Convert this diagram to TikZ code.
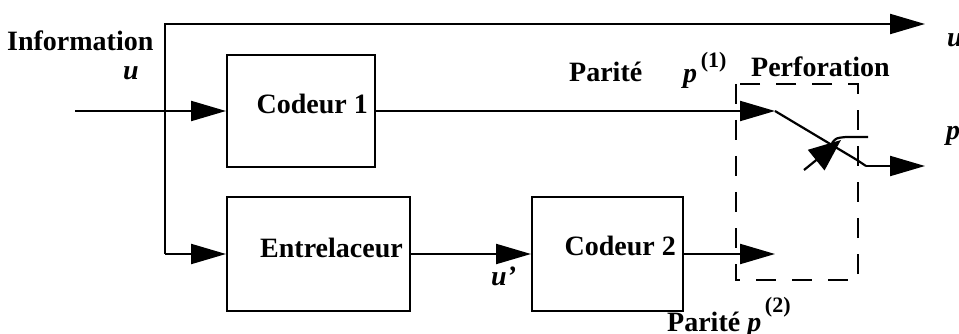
\documentclass[tikz,border=0pt]{standalone}
\usepackage{fontspec}
\setmainfont{Liberation Serif}
\usetikzlibrary{arrows.meta,calc}
\begin{document}
\begin{tikzpicture}[x=1pt,y=-1pt,
  lbl/.style={font=\fontsize{28}{30}\selectfont\bfseries, inner sep=0pt},
  blk/.style={draw, line width=2pt, inner sep=0pt},
  wire/.style={line width=2.2pt},
  arr/.style={wire, -{Triangle[length=35pt,width=20pt]}},
  dashbox/.style={line width=2pt, dash pattern=on 20pt off 16pt}
]
\useasboundingbox (0,0) rectangle (959,334);
% blocks
\node[blk, minimum width=148pt, minimum height=112pt] (cod1) at (301,111) {};
\node[blk, minimum width=183pt, minimum height=114pt] (ent) at (318.5,254) {};
\node[blk, minimum width=151pt, minimum height=113pt] (cod2) at (607.5,254) {};
\node[lbl, anchor=base east] (t1) at ($(cod1.east)+(-8,3)$) {Codeur 1};
\node[lbl, anchor=base east] (t2) at ($(ent.east)+(-8,3)$) {Entrelaceur};
\node[lbl, anchor=base east] (t3) at ($(cod2.east)+(-8,1)$) {Codeur 2};
% coordinates
\coordinate (in) at (75,111);
\coordinate (j1) at (165,111);
\coordinate (tl) at (165,24);
\coordinate (bl) at (165,254);
\coordinate (uout) at (925,24);
\coordinate (p1tip) at (775,111);
\coordinate (p2tip) at (775,254);
\coordinate (sw1) at (857,160);
\coordinate (sw2) at (866,166);
\coordinate (pout) at (925,166);
\coordinate (ca) at (832,143);
\coordinate (cb) at (846,137);
\coordinate (cc) at (868,137);
\coordinate (hb) at (804,170);
\coordinate (ht) at (841,140);
% wires
\draw[wire] (in) -- (j1);
\draw[arr] (j1) -- (tl) -- (uout);
\draw[arr] (j1) -- (cod1.west);
\draw[wire] (j1) -- (bl);
\draw[arr] (bl) -- (ent.west);
\draw[arr] (ent.east) -- (cod2.west);
\draw[arr] (cod1.east) -- (p1tip);
\draw[arr] (cod2.east) -- (p2tip);
% switch
\draw[wire] (p1tip) -- (sw1) -- (sw2);
\draw[arr] (sw2) -- (pout);
\draw[wire] (ca) .. controls (836,138) .. (cb) -- (cc);
\draw[wire, -{Triangle[length=32pt,width=26pt]}] (hb) -- (ht);
% dashed box
\draw[dashbox] (736,84) rectangle (858,280);
% labels
\node[lbl, anchor=base west] (info) at (7,51) {Information};
\node[lbl, anchor=base] (u) at (131,80) {\textit{u}};
\node[lbl, anchor=base west] (par1) at (569,82) {Parité};
\node[lbl, anchor=base west] (p1) at (683,83) {\textit{p}\raisebox{15pt}{\fontsize{22}{22}\selectfont\,(1)}};
\node[lbl, anchor=base west] (perf) at (751,77) {Perforation};
\node[lbl, anchor=base west] (uo) at (947,47) {\textit{u}};
\node[lbl, anchor=base west] (po) at (946,140) {\textit{p}};
\node[lbl, anchor=base west] (up) at (491,285) {\textit{u'}};
\node[lbl, anchor=base west] (par2) at (667,331) {Parité \textit{p}\raisebox{19pt}{\fontsize{22}{22}\selectfont\,(2)}};
\end{tikzpicture}
\end{document}
